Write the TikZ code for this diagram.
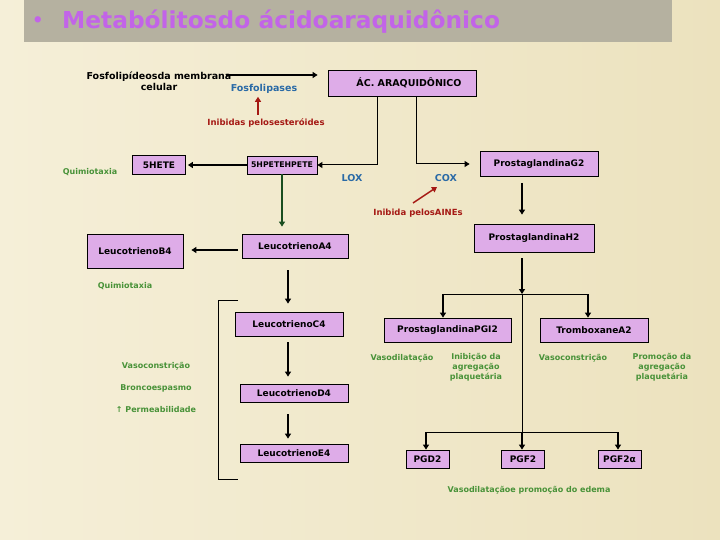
\documentclass[tikz,border=0pt]{standalone}
\usepackage{fontspec}
\setmainfont{DejaVu Sans}
\usetikzlibrary{arrows.meta}
\definecolor{bgA}{RGB}{245,239,216}
\definecolor{bgB}{RGB}{236,226,190}
\definecolor{barC}{RGB}{181,177,160}
\definecolor{titleC}{RGB}{194,100,232}
\definecolor{boxC}{RGB}{222,172,232}
\definecolor{grn}{RGB}{72,146,56}
\definecolor{blu}{RGB}{42,106,166}
\definecolor{redC}{RGB}{165,25,20}
\definecolor{dgrn}{RGB}{25,78,32}
\begin{document}
\begin{tikzpicture}[x=1pt,y=-1pt,
 box/.style={draw=black,line width=0.8pt,fill=boxC,inner sep=0pt,font=\bfseries\fontsize{9}{10}\selectfont},
 gtxt/.style={text=grn,font=\bfseries\fontsize{8}{10}\selectfont,inner sep=0pt,align=center},
 btxt/.style={text=blu,font=\bfseries\fontsize{9.5}{10}\selectfont,inner sep=0pt},
 rtxt/.style={text=redC,font=\bfseries\fontsize{8.5}{10}\selectfont,inner sep=0pt},
 ktxt/.style={text=black,font=\bfseries\fontsize{9.5}{11}\selectfont,inner sep=0pt,align=center},
 tip/.style={-{Triangle[length=5pt,width=6pt]}},
 arr/.style={line width=1.7pt,tip},
 ln/.style={line width=1pt},
]
\useasboundingbox (0,0) rectangle (720,540);
\shade[left color=bgA,right color=bgB] (0,0) rectangle (720,540);
\fill[barC] (24,0) rectangle (672,42);
\node[text=titleC,font=\bfseries\fontsize{18}{20}\selectfont,inner sep=0pt] (bul) at (38,22) {•};
\node[text=titleC,font=\bfseries\fontsize{23.3}{26}\selectfont,inner sep=0pt,anchor=west] (title) at (62,22) {Metabólitosdo ácidoaraquidônico};

% top row
\node[ktxt] (fosf) at (159,81) {Fosfolipídeosda membrana\\celular};
\node[box,minimum width=148pt,minimum height=26pt,font=\bfseries\fontsize{9.5}{10}\selectfont] (ac) at (402,83) {\hspace*{14pt}ÁC. ARAQUIDÔNICO};
\coordinate (fa) at (226,75);
\draw[line width=1.3pt,tip,shorten >=10pt] (fa) -- (fa -| ac.west);
\node[btxt] (fl) at (264,89) {Fosfolipases};
\node[rtxt] (inh1) at (266,123) {Inibidas pelosesteróides};
\coordinate (ra) at (258,115);
\draw[redC,line width=1.5pt,tip,shorten >=3pt] (ra) -- (ra |- fl.south);

% LOX / COX
\node[box,minimum width=70pt,minimum height=18pt,font=\bfseries\fontsize{7.8}{9}\selectfont] (hpete) at (282,165) {5HPETEHPETE};
\node[box,minimum width=53pt,minimum height=19pt] (hete) at (159,165) {5HETE};
\node[box,minimum width=118pt,minimum height=25pt] (pgg2) at (539,164) {ProstaglandinaG2};
\coordinate (lx) at (377,0);
\coordinate (cxa) at (416,0);
\draw[ln,tip] (ac.south -| lx) |- (hpete.east);
\draw[ln,tip,shorten >=10pt] (ac.south -| cxa) |- (pgg2.west);
\node[btxt] (lox) at (352,178) {LOX};
\node[btxt] (cox) at (446,178) {COX};
\node[rtxt] (inh2) at (418,213) {Inibida pelosAINEs};
\coordinate (na) at (413,203);
\coordinate (nb) at (437,187);
\draw[redC,line width=1.5pt,tip] (na) -- (nb);
\draw[line width=1.5pt,tip,shorten >=2pt] (hpete.west) -- (hpete.west -| hete.east);
\node[gtxt] (q1) at (90,172) {Quimiotaxia};

% leukotrienes
\node[box,minimum width=106pt,minimum height=24pt] (lta4) at (295,246) {LeucotrienoA4};
\node[box,minimum width=96pt,minimum height=34pt] (ltb4) at (135,251) {LeucotrienoB4};
\node[box,minimum width=108pt,minimum height=24pt] (ltc4) at (289,324) {LeucotrienoC4};
\node[box,minimum width=108pt,minimum height=18pt] (ltd4) at (294,393) {LeucotrienoD4};
\node[box,minimum width=108pt,minimum height=18pt] (lte4) at (294,453) {LeucotrienoE4};
\draw[dgrn,line width=1.5pt,tip,shorten >=7pt] (hpete.south) -- (hpete.south |- lta4.north);
\coordinate (ab) at (238,250);
\draw[arr,shorten >=8pt] (ab) -- (ab -| ltb4.east);
\coordinate (lc) at (288,0);
\draw[arr,shorten <=12pt,shorten >=8pt] (lta4.south -| lc) -- (ltc4.north -| lc);
\draw[arr,shorten <=6pt,shorten >=7pt] (ltc4.south -| lc) -- (ltd4.north -| lc);
\draw[arr,shorten <=12pt,shorten >=5pt] (ltd4.south -| lc) -- (lte4.north -| lc);
\node[gtxt] (q2) at (125,286) {Quimiotaxia};
\coordinate (b1) at (238,300);
\coordinate (b2) at (218,300);
\coordinate (b3) at (218,479);
\coordinate (b4) at (238,479);
\draw[ln] (b1) -- (b2) -- (b3) -- (b4);
\node[gtxt] (vc1) at (156,366) {Vasoconstrição};
\node[gtxt] (bro) at (156,388) {Broncoespasmo};
\node[gtxt] (perm) at (156,410) {↑ Permeabilidade};

% prostaglandins
\node[box,minimum width=120pt,minimum height=28pt] (pgh2) at (534,238) {ProstaglandinaH2};
\coordinate (cx) at (522,0);
\draw[arr,shorten <=6pt,shorten >=9pt] (pgg2.south -| cx) -- (pgh2.north -| cx);
\coordinate (j1) at (522,294);
\coordinate (ja) at (443,294);
\coordinate (jb) at (588,294);
\draw[arr,shorten <=6pt] (pgh2.south -| cx) -- (j1);
\draw[ln] (ja) -- (jb);
\node[box,minimum width=127pt,minimum height=24pt] (pgi2) at (447.5,330) {ProstaglandinaPGI2};
\node[box,minimum width=108pt,minimum height=24pt] (txa2) at (594,330) {TromboxaneA2};
\draw[arr] (ja) -- (ja |- pgi2.north);
\draw[arr] (jb) -- (jb |- txa2.north);
\coordinate (j2) at (522,432);
\coordinate (jc) at (426,432);
\coordinate (jd) at (618,432);
\draw[ln] (j1) -- (j2);
\draw[ln] (jc) -- (jd);
\node[box,minimum width=43pt,minimum height=18pt] (pgd2) at (427.5,459) {PGD2};
\node[box,minimum width=43pt,minimum height=18pt] (pgf2) at (523,459) {PGF2};
\node[box,minimum width=43pt,minimum height=18pt] (pgf2a) at (619.5,459) {PGF2α};
\draw[arr] (jc) -- (jc |- pgd2.north);
\draw[arr] (j2) -- (j2 |- pgf2.north);
\draw[arr] (jd) -- (jd |- pgf2a.north);
\node[gtxt] (vd1) at (402,358) {Vasodilatação};
\node[gtxt,anchor=north] (inib) at (476,353) {Inibição da\\agregação\\plaquetária};
\node[gtxt] (vc2) at (573,358) {Vasoconstrição};
\node[gtxt,anchor=north] (prom) at (662,353) {Promoção da\\agregação\\plaquetária};
\node[gtxt] (edema) at (529,490) {Vasodilataçãoe promoção do edema};
\end{tikzpicture}
\end{document}
